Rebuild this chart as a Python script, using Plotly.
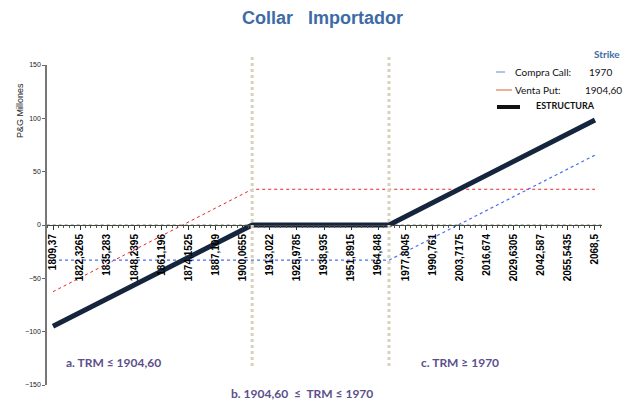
import plotly.graph_objects as go

# puntos de quiebre de la TRM (eje x)
trm = [1809.37, 1904.60, 1970.00, 2068.50]

# P&G en millones
compra_call = [-33.0, -33.0, -33.0, 65.5]
venta_put = [-62.5, 33.5, 33.5, 33.5]
estructura = [-95.0, 0.0, 0.0, 98.5]

# etiquetas del eje x
tick_vals = [1809.37, 1822.3265, 1835.283, 1848.2395, 1861.196, 1874.1525,
             1887.109, 1900.0655, 1913.022, 1925.9785, 1938.935, 1951.8915,
             1964.848, 1977.8045, 1990.761, 2003.7175, 2016.674, 2029.6305,
             2042.587, 2055.5435, 2068.5]
tick_text = [str(v).replace(".", ",") for v in tick_vals]

strike_put = 1904.60
strike_call = 1970.00

# margenes del area de trazado (pixeles)
l, r, t, b = 47, 25, 65, 19
w, h = 627 - l - r, 404 - t - b

fig = go.Figure()

# linea punteada verde en cero
fig.add_trace(go.Scatter(x=[trm[0] - 3, trm[-1] + 3], y=[0, 0], mode="lines",
                         line=dict(color="#6a9a5a", width=1, dash="dot"),
                         hoverinfo="skip", showlegend=False))

fig.add_trace(go.Scatter(x=trm, y=venta_put, mode="lines", name="Venta Put",
                         line=dict(color="#e8262a", width=1, dash="dot")))
fig.add_trace(go.Scatter(x=trm, y=compra_call, mode="lines", name="Compra Call",
                         line=dict(color="#4a6ef0", width=1.2, dash="dot")))
fig.add_trace(go.Scatter(x=trm, y=estructura, mode="lines", name="ESTRUCTURA",
                         line=dict(color="#15253d", width=5)))

# lineas verticales de los strikes
for s in [strike_put, strike_call]:
    fig.add_shape(type="line", xref="x", yref="paper", x0=s, x1=s, y0=1.025, y1=0.05,
                  line=dict(color="#d6d2bc", width=3, dash="dot"))


# las anotaciones se ubican en pixeles de la figura, convertidos a paper
def add_px(text, xp, yp, font, xanchor="center", angle=0):
    fig.add_annotation(text=text, x=(xp - l) / w, y=(404 - b - yp) / h,
                       xref="paper", yref="paper", showarrow=False, font=font,
                       xanchor=xanchor, yanchor="middle", textangle=angle)


lbl = dict(family="Lato, Open Sans", size=12, color="#5b4f8c", weight="bold")
add_px("a. TRM ≤ 1904,60", 113, 362, lbl)
add_px("c. TRM ≥ 1970", 460, 362, lbl)
add_px("b. 1904,60  ≤  TRM ≤ 1970", 302, 393, lbl)

add_px("Collar   Importador", 322, 18,
       dict(family="Liberation Sans, Arial", size=18, color="#3d6ba6", weight="bold"))

add_px("P&G Millones", 20, 111,
       dict(family="Liberation Sans, Arial", size=9, color="#222"), angle=-90)

# leyenda personalizada
leg = dict(family="Lato, Open Sans", size=10, color="#111")
add_px("Strike", 622, 54, dict(family="Lato, Open Sans", size=10, color="#3d6ba6",
                               weight="bold"), xanchor="right")
add_px("Compra Call:", 513, 72, leg, xanchor="left")
add_px("1970", 614, 72, leg, xanchor="right")
add_px("Venta Put:", 513, 90, leg, xanchor="left")
add_px("1904,60", 624, 90, leg, xanchor="right")
add_px("ESTRUCTURA", 534, 105, dict(family="Lato, Open Sans", size=9, color="#111",
                                     weight="bold"), xanchor="left")


def leg_line(x0, x1, yp, color, width, dash):
    fig.add_shape(type="line", xref="paper", yref="paper",
                  x0=(x0 - l) / w, x1=(x1 - l) / w,
                  y0=(404 - b - yp) / h, y1=(404 - b - yp) / h,
                  line=dict(color=color, width=width, dash=dash))


leg_line(496, 512, 72, "#6a86c8", 1, "dash")
leg_line(496, 512, 90, "#e0602a", 1, "solid")
leg_line(497, 520, 107, "#111", 4, "solid")

fig.update_layout(
    width=627, height=404,
    margin=dict(l=l, r=r, t=t, b=b, autoexpand=False),
    paper_bgcolor="white", plot_bgcolor="white",
    showlegend=False,
    xaxis=dict(
        range=[1806.5, 2071.85], anchor="free", position=0.5,
        tickmode="array", tickvals=tick_vals, ticktext=tick_text,
        tickangle=-90, ticks="outside", ticklen=4, tickcolor="#333",
        tickfont=dict(family="Liberation Sans, Arial", size=10, color="black",
                      weight="bold"),
        minor=dict(tickmode="linear", tick0=1809.37, dtick=12.9565 / 5,
                   ticks="outside", ticklen=2, tickcolor="#555"),
        showline=True, linecolor="#444", linewidth=1,
        showgrid=False, zeroline=False,
    ),
    yaxis=dict(
        range=[-150, 150], tickvals=[-150, -100, -50, 0, 50, 100, 150],
        ticks="outside", ticklen=3, tickcolor="#666",
        tickfont=dict(family="Liberation Sans, Arial", size=7, color="#222"),
        showline=True, linecolor="#777", linewidth=1.5,
        showgrid=False, zeroline=False,
    ),
)

# sin margen del body para que la figura quede en la esquina de la ventana
fig.write_html("out.html", config={"displayModeBar": False},
               post_script="document.body.style.margin='0';")
